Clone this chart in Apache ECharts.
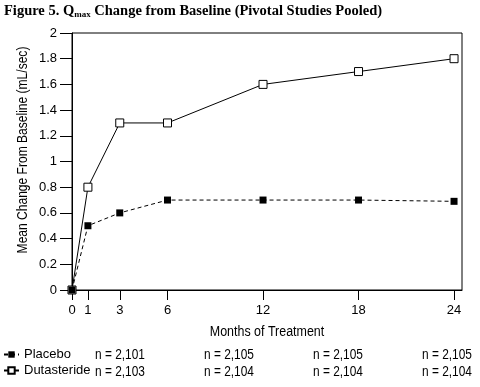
<!DOCTYPE html>
<html>
<head>
<meta charset="utf-8">
<script src="https://cdn.jsdelivr.net/npm/echarts@6/dist/echarts.min.js"></script>
<style>html,body{margin:0;padding:0;background:#fff}#c{width:480px;height:387px}</style>
</head>
<body>
<div id="c"></div>
<script>
const months = [0, 1, 3, 6, 12, 18, 24];
const placebo = [0, 0.5, 0.6, 0.7, 0.7, 0.7, 0.69];
const dutasteride = [0, 0.8, 1.3, 1.3, 1.6, 1.7, 1.8];
const xTicks = [0, 1, 3, 6, 12, 18, 24];
const placeboN = ['n = 2,101', 'n = 2,105', 'n = 2,105', 'n = 2,105'];
const dutasterideN = ['n = 2,103', 'n = 2,104', 'n = 2,104', 'n = 2,104'];

const FONT = '"Liberation Sans", Arial, sans-serif';
const colX = [95, 204, 313, 422];
const rowY = [355, 372];

const graphics = [];
[placeboN, dutasterideN].forEach((row, r) => {
  row.forEach((t, i) => {
    graphics.push({
      type: 'text', x: colX[i], y: rowY[r], scaleX: 0.85,
      style: { text: t, font: '14px ' + FONT, fill: '#000', align: 'left', verticalAlign: 'middle' }
    });
  });
});
graphics.push({
  type: 'text', x: 23, y: 150, rotation: Math.PI / 2, scaleX: 0.86,
  style: { text: 'Mean Change From Baseline (mL/sec)', font: '14px ' + FONT, fill: '#000',
           align: 'center', verticalAlign: 'middle' }
});
graphics.push({
  type: 'text', x: 267, y: 332, scaleX: 0.89,
  style: { text: 'Months of Treatment', font: '14px ' + FONT, fill: '#000',
           align: 'center', verticalAlign: 'middle' }
});

const chart = echarts.init(document.getElementById('c'), null, { renderer: 'canvas' });
chart.setOption({
  animation: false,
  backgroundColor: '#fff',
  title: {
    text: '{b|Figure 5. Q}{s|max}{b| Change from Baseline (Pivotal Studies Pooled)}',
    left: 4, top: 4, padding: 0,
    textStyle: {
      rich: {
        b: { fontFamily: '"Liberation Serif", serif', fontWeight: 'bold', fontSize: 14.5, color: '#000' },
        s: { fontFamily: '"Liberation Serif", serif', fontWeight: 'bold', fontSize: 9, color: '#000', padding: [6, 0, 0, 0] }
      }
    }
  },
  grid: { left: 72, right: 18, top: 33, bottom: 97, show: true, borderColor: '#000', borderWidth: 1 },
  legend: {
    orient: 'vertical', left: 3, top: 348, padding: 0, itemWidth: 15, itemHeight: 8, itemGap: 3,
    textStyle: { fontFamily: FONT, fontSize: 13, color: '#000' },
    data: ['Placebo', 'Dutasteride']
  },
  xAxis: {
    type: 'value', min: 0, max: 24.5,
    axisLine: { lineStyle: { color: '#000', width: 1 } },
    axisTick: { show: true, length: 10, customValues: xTicks, lineStyle: { color: '#000' } },
    axisLabel: { customValues: xTicks, margin: 14, fontFamily: FONT, fontSize: 13, color: '#000' },
    splitLine: { show: false }
  },
  yAxis: {
    type: 'value', min: 0, max: 2, interval: 0.2,
    axisLine: { show: true, lineStyle: { color: '#000', width: 1 } },
    axisTick: { show: true, length: 12, lineStyle: { color: '#000' } },
    axisLabel: { margin: 15, fontFamily: FONT, fontSize: 13, color: '#000',
      formatter: v => String(Math.round(v * 10) / 10) },
    splitLine: { show: false }
  },
  graphic: graphics,
  series: [
    {
      name: 'Dutasteride', type: 'line', data: months.map((m, i) => [m, dutasteride[i]]),
      symbol: 'rect', symbolSize: 8,
      itemStyle: { color: '#fff', borderColor: '#000', borderWidth: 1 },
      lineStyle: { color: '#000', width: 1, type: 'solid' }, z: 2
    },
    {
      name: 'Placebo', type: 'line', data: months.map((m, i) => [m, placebo[i]]),
      symbol: 'rect', symbolSize: 7,
      itemStyle: { color: '#000', borderColor: '#000', borderWidth: 0 },
      lineStyle: { color: '#000', width: 1, type: [4, 3] }, z: 3
    }
  ]
});
</script>
</body>
</html>
